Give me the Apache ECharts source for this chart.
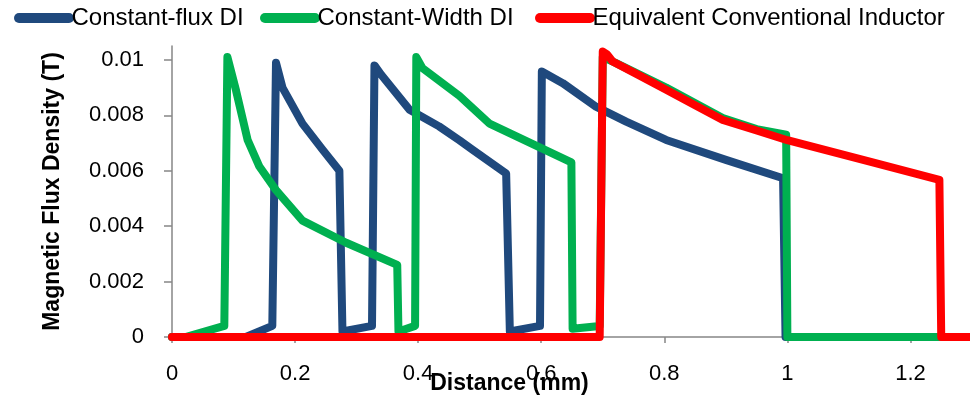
<!DOCTYPE html>
<html>
<head>
<meta charset="utf-8">
<title>Magnetic Flux Density vs Distance</title>
<script src="https://cdn.jsdelivr.net/npm/echarts@6.0.0/dist/echarts.min.js"></script>
<style>
  html, body { margin: 0; padding: 0; background: #ffffff; }
  #chart { width: 970px; height: 402px; }
</style>
</head>
<body>
<div id="chart"></div>
<script>
// Distance along the core (mm) and flux density (T) for each design
const fluxDistance = [0, 0.12, 0.163, 0.169, 0.1795, 0.212, 0.245, 0.272, 0.277, 0.325, 0.329, 0.34, 0.386, 0.434, 0.467, 0.489, 0.543, 0.549, 0.598, 0.601, 0.635, 0.689, 0.738, 0.803, 0.9, 0.993, 0.997, 1.3];
const fluxDensity  = [0, 0, 0.0004, 0.0099, 0.0090, 0.0077, 0.00675, 0.0060, 0.0002, 0.0004, 0.0098, 0.00946, 0.0082, 0.0076, 0.0071, 0.00675, 0.0059, 0.0002, 0.0004, 0.00958, 0.00916, 0.00831, 0.00777, 0.00711, 0.00639, 0.00573, 0, 0];

const widthDistance = [0, 0.022, 0.085, 0.090, 0.104, 0.123, 0.142, 0.169, 0.212, 0.283, 0.366, 0.368, 0.395, 0.397, 0.407, 0.467, 0.516, 0.649, 0.651, 0.695, 0.700, 0.72, 0.803, 0.895, 0.95, 0.998, 1.000, 1.3];
const widthDensity  = [0, 0, 0.0004, 0.0101, 0.0089, 0.0071, 0.00615, 0.0053, 0.0042, 0.0034, 0.0026, 0.0002, 0.0004, 0.0101, 0.0097, 0.0087, 0.0077, 0.0063, 0.0003, 0.0004, 0.0101, 0.0099, 0.0090, 0.0079, 0.0075, 0.0073, 0, 0];

const convDistance = [0, 0.695, 0.700, 0.707, 0.716, 0.76, 0.803, 0.85, 0.895, 0.95, 1.0, 1.134, 1.247, 1.250, 1.3];
const convDensity  = [0, 0, 0.0103, 0.0102, 0.00994, 0.00943, 0.00892, 0.00836, 0.00783, 0.00745, 0.0071, 0.00633, 0.00567, 0, 0];

const seriesNames = ['Constant-flux DI', 'Constant-Width DI', 'Equivalent Conventional Inductor'];
const seriesColors = ['#1F497D', '#00B050', '#FF0000'];
const legendLefts = [9, 255, 530];

const xTicks = [0, 0.2, 0.4, 0.6, 0.8, 1, 1.2];
const yTicks = [0, 0.002, 0.004, 0.006, 0.008, 0.01];

const zip = (xs, ys) => xs.map((x, i) => [x, ys[i]]);
const curves = [
  zip(fluxDistance, fluxDensity),
  zip(widthDistance, widthDensity),
  zip(convDistance, convDensity)
];

const pill = 'path://M5,0 L55,0 A5,5 0 0 1 55,10 L5,10 A5,5 0 0 1 5,0 Z';
const axisGray = '#868686';
const font = 'Liberation Sans, Arial, sans-serif';

// one legend entry per component so each key sits at its own x position
const legends = seriesNames.map((n, i) => ({
  top: 1,
  left: legendLefts[i],
  itemWidth: 61,
  itemHeight: 10,
  icon: pill,
  textStyle: { fontSize: 24, color: '#000', fontFamily: font, padding: [0, 0, 0, -8] },
  data: [{ name: n, itemStyle: { color: seriesColors[i] } }]
}));

const chart = echarts.init(document.getElementById('chart'), null, { renderer: 'canvas' });
chart.setOption({
  animation: false,
  backgroundColor: '#ffffff',
  textStyle: { fontFamily: font },
  legend: legends,
  grid: { left: 172, right: -2, top: 46, bottom: 65, containLabel: false, outerBoundsMode: 'none' },
  xAxis: {
    type: 'value',
    min: 0,
    max: 1.3,
    interval: 0.2,
    name: 'Distance (mm)',
    nameLocation: 'middle',
    nameGap: 35,
    nameMoveOverlap: false,
    nameTextStyle: { fontSize: 23, fontWeight: 'bold', color: '#000', fontFamily: font, padding: [0, 125, 0, 0] },
    splitLine: { show: false },
    axisLine: { show: true, lineStyle: { color: axisGray, width: 1.5 } },
    axisTick: { show: true, length: 6, lineStyle: { color: axisGray, width: 1.5 }, customValues: xTicks },
    axisLabel: { fontSize: 22, color: '#000', margin: 26, customValues: xTicks, formatter: v => String(v) }
  },
  yAxis: {
    type: 'value',
    min: 0,
    max: 0.0105,
    interval: 0.002,
    name: 'Magnetic Flux Density (T)',
    nameLocation: 'middle',
    nameGap: 108,
    nameMoveOverlap: false,
    nameTextStyle: { fontSize: 23, fontWeight: 'bold', color: '#000', fontFamily: font },
    splitLine: { show: false },
    axisLine: { show: true, lineStyle: { color: axisGray, width: 1.5 } },
    axisTick: { show: true, length: 8, lineStyle: { color: axisGray, width: 1.5 }, customValues: yTicks },
    axisLabel: { fontSize: 22, color: '#000', margin: 28, customValues: yTicks, formatter: v => String(v) }
  },
  series: curves.map((data, i) => ({
    name: seriesNames[i],
    type: 'line',
    data: data,
    showSymbol: false,
    symbol: 'none',
    color: seriesColors[i],
    lineStyle: { color: seriesColors[i], width: 8, cap: 'round', join: 'round' },
    z: 2 + i
  }))
});
</script>
</body>
</html>
